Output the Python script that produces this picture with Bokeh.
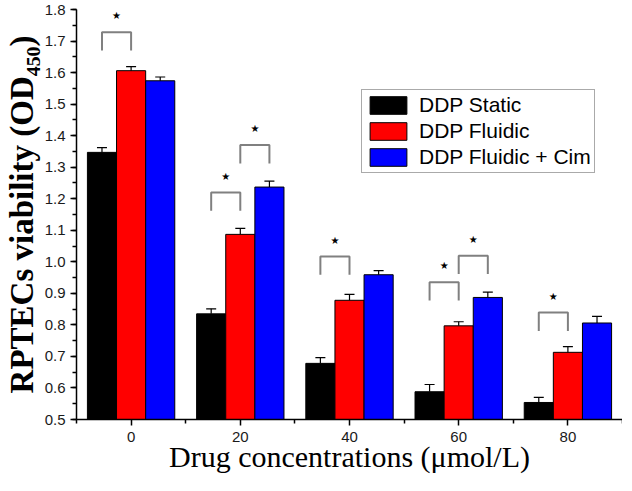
from bokeh.plotting import figure
from bokeh.models import (ColumnDataSource, Whisker, TeeHead, FixedTicker,
                          SingleIntervalTicker, NumeralTickFormatter, Legend,
                          LegendItem, Range1d)
from bokeh.core.properties import value
from bokeh.embed import file_html
from bokeh.resources import INLINE

# ---------------- data ----------------
conc = [0, 20, 40, 60, 80]
series_names = ["DDP Static", "DDP Fluidic", "DDP Fluidic + Cim"]
static_mean = [1.347, 0.835, 0.678, 0.588, 0.554]
static_err = [0.015, 0.016, 0.018, 0.023, 0.016]
fluidic_mean = [1.606, 1.087, 0.878, 0.797, 0.713]
fluidic_err = [0.013, 0.019, 0.019, 0.013, 0.018]
cim_mean = [1.574, 1.237, 0.959, 0.887, 0.806]
cim_err = [0.012, 0.019, 0.013, 0.017, 0.021]

# significance brackets: concentration, left series index (pairs with the next series), bracket height
sig_conc = [0, 20, 20, 40, 60, 60, 80]
sig_left = [0, 0, 1, 0, 0, 1, 0]
sig_top = [1.728, 1.220, 1.370, 1.017, 0.935, 1.019, 0.839]
sig_label = ["★"] * 7

x_ticks = [0, 20, 40, 60, 80]
x_minor = [-10, 10, 30, 50, 70, 90]

# ---------------- style ----------------
colors = ["black", "#ff0000", "#0000ff"]
BAR_W = 16 / 3
offsets = [-BAR_W, 0, BAR_W]
Y_MIN, Y_MAX = 0.5, 1.8
LEG = 0.058
STAR_GAP = 0.052

p = figure(width=622, height=475, x_range=Range1d(-10, 90), y_range=Range1d(Y_MIN, Y_MAX),
           output_backend="svg", toolbar_location=None,
           min_border_top=9, min_border_right=0, min_border_left=10, min_border_bottom=10)
p.outline_line_color = None
p.xgrid.visible = False
p.ygrid.visible = False
p.background_fill_color = "white"

means = [static_mean, fluidic_mean, cim_mean]
errs = [static_err, fluidic_err, cim_err]
items = []
for i in range(3):
    src = ColumnDataSource(dict(
        x=[c + offsets[i] for c in conc],
        top=means[i],
        upper=[m + e for m, e in zip(means[i], errs[i])],
    ))
    r = p.vbar(x="x", top="top", bottom=Y_MIN, width=BAR_W, source=src,
               fill_color=colors[i], line_color="black", line_width=1)
    items.append(LegendItem(label=series_names[i], renderers=[r]))
    w = Whisker(source=src, base="x", upper="upper", lower="top", dimension="height",
                line_color="black", line_width=1.2,
                upper_head=TeeHead(size=10, line_color="black", line_width=1.2),
                lower_head=None, level="overlay")
    p.add_layout(w)

# brackets
xs, ys, sx, sy = [], [], [], []
for c, l, t in zip(sig_conc, sig_left, sig_top):
    xl = c + offsets[l]
    xr = c + offsets[l + 1]
    xs.append([xl, xl, xr, xr])
    ys.append([t - LEG, t, t, t - LEG])
    sx.append((xl + xr) / 2)
    sy.append(t + STAR_GAP)
p.multi_line(xs=xs, ys=ys, line_color="#808080", line_width=2)
p.text(x=sx, y=sy, text=sig_label, text_align="center", text_baseline="middle",
       text_font=value("DejaVu Sans"), text_font_size="10px", text_color="black")

# axes
for ax in (p.xaxis[0], p.yaxis[0]):
    ax.axis_line_color = "black"
    ax.axis_line_width = 1.5
    ax.major_tick_line_color = "black"
    ax.major_tick_line_width = 1.5
    ax.minor_tick_line_color = "black"
    ax.minor_tick_line_width = 1.5
    ax.major_tick_in = 0
    ax.major_tick_out = 6
    ax.minor_tick_in = 0
    ax.minor_tick_out = 4
    ax.major_label_text_font = "Liberation Sans"
    ax.major_label_text_font_size = "15px"
    ax.major_label_text_color = "#1a1a1a"
    ax.axis_label_text_font = "Liberation Serif"
    ax.axis_label_text_color = "black"

p.xaxis.ticker = FixedTicker(ticks=x_ticks, minor_ticks=x_minor)
p.xaxis.major_label_standoff = 6
p.xaxis.axis_label = "Drug concentrations (μmol/L)"
p.xaxis.axis_label_text_font_size = "30px"
p.xaxis.axis_label_text_font_style = "normal"
p.xaxis.axis_label_standoff = -5

p.yaxis.ticker = SingleIntervalTicker(interval=0.1, num_minor_ticks=2)
p.yaxis.formatter = NumeralTickFormatter(format="0.0")
p.yaxis.major_label_standoff = 5
p.yaxis.axis_label = "RPTECs viability (OD₄₅₀)"
p.yaxis.axis_label_text_font_size = "33px"
p.yaxis.axis_label_text_font_style = "bold"
p.yaxis.axis_label_standoff = 2

legend = Legend(items=items, location=(285, 246),
                label_text_font="Liberation Sans", label_text_font_size="21px",
                label_text_color="black",
                glyph_width=46, glyph_height=22, label_height=22, spacing=2,
                padding=3, margin=0, label_standoff=8,
                border_line_color="#555555", border_line_width=1.5,
                background_fill_color="white", background_fill_alpha=1)
p.add_layout(legend)

open("out.html", "w").write(file_html(p, INLINE))
